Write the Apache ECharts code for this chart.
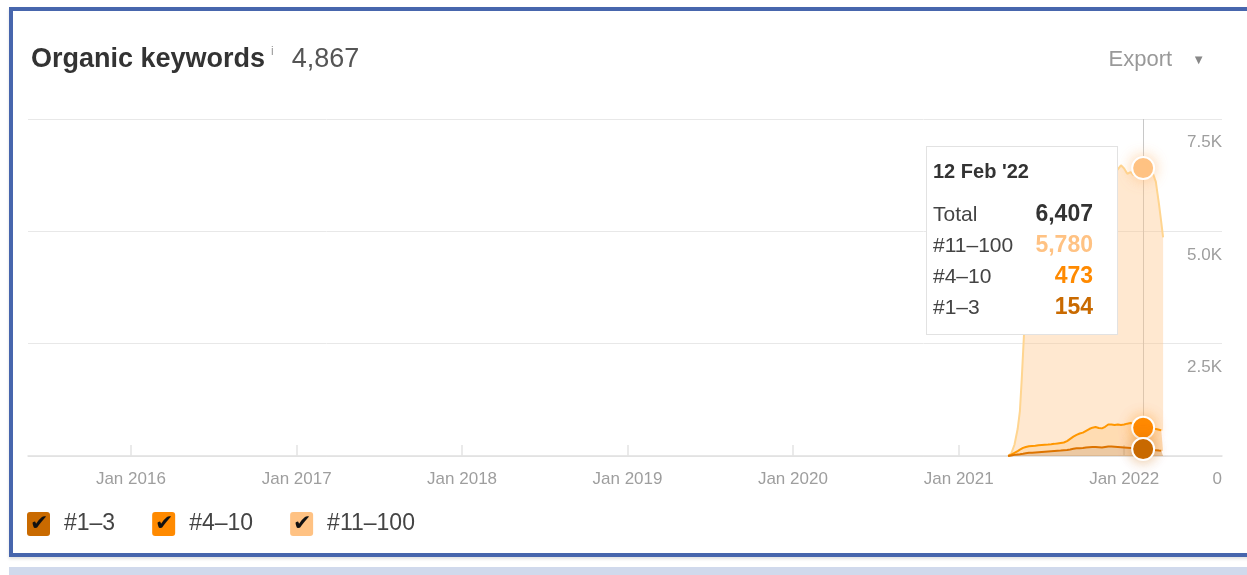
<!DOCTYPE html>
<html><head><meta charset="utf-8">
<script src="https://cdn.jsdelivr.net/npm/echarts@6/dist/echarts.min.js"></script>
<style>
html,body{margin:0;padding:0;background:#fff;width:1247px;height:575px;overflow:hidden;}
#frame{position:absolute;left:9px;top:7px;width:1250px;height:542px;border:4px solid #4766ad;box-shadow:0 2px 3px rgba(0,0,0,0.12);}
#strip{position:absolute;left:9px;top:567px;width:1250px;height:10px;background:#d0d9ec;}
#chart{position:absolute;left:0;top:0;width:1247px;height:575px;}
</style></head>
<body>
<div id="frame"></div><div id="strip"></div>
<div id="chart"></div>
<script>
// ---- data ----
const dates = ['2021-04-20','2021-04-27','2021-05-04','2021-05-11','2021-05-16','2021-05-20','2021-05-23','2021-05-26','2021-05-29','2021-06-01','2021-06-05','2021-06-12','2021-06-19','2021-06-26','2021-07-03','2021-07-10','2021-07-17','2021-07-24','2021-07-31','2021-08-07','2021-08-14','2021-08-21','2021-08-28','2021-09-04','2021-09-11','2021-09-18','2021-09-25','2021-10-02','2021-10-09','2021-10-16','2021-10-23','2021-10-30','2021-11-06','2021-11-13','2021-11-20','2021-11-27','2021-12-04','2021-12-11','2021-12-18','2021-12-25','2022-01-01','2022-01-08','2022-01-15','2022-01-22','2022-01-29','2022-02-05','2022-02-12','2022-02-19','2022-02-26','2022-03-05','2022-03-12','2022-03-19','2022-03-24','2022-03-28'];
const top1to3 = [0,10,25,35,40,45,50,55,60,65,70,75,80,85,90,95,100,105,110,115,120,128,135,145,160,170,175,180,190,195,200,200,195,190,200,210,210,205,200,195,190,185,180,175,165,160,154,155,150,140,130,120,115,110];
const top4to10 = [0,20,45,75,100,120,130,135,140,145,145,150,150,155,155,155,155,157,160,165,170,172,195,235,270,300,325,340,370,405,430,445,430,425,450,490,490,485,500,495,510,535,555,545,525,500,473,475,470,470,470,465,455,450];
const top11to100 = [0,30,180,490,860,1535,2120,2710,3800,4990,5685,5925,6020,5960,6055,6100,6025,6058,6130,6100,6010,6050,6090,6000,5870,5880,5920,5880,5770,5780,5820,5755,5725,5685,5730,5720,5650,5610,5680,5780,5700,5560,5585,5530,5640,5710,5780,5790,5770,5690,5500,5015,4630,4307];
const seriesNames = ['#1–3','#4–10','#11–100'];
const yTickLabels = {0:'0',2500:'2.5K',5000:'5.0K',7500:'7.5K'};
const xRange = ['2015-05-19','2022-08-05'];
const hoverDate = '2022-02-12';
const headlineTotal = '4,867';

// ---- chart ----
const FONT = "'Liberation Sans', Arial, sans-serif";
const parse = s => new Date(s + 'T00:00:00').getTime();
const colors = ['#c96a00','#ff8a00','#ffc283'];
const areas = ['rgba(201,106,0,0.36)','rgba(255,138,0,0.30)','rgba(255,194,131,0.38)'];
const halos = ['rgba(201,106,0,0.45)','rgba(255,138,0,0.45)','rgba(255,194,131,0.7)'];
const values = [top1to3, top4to10, top11to100];
const MON = ['Jan','Feb','Mar','Apr','May','Jun','Jul','Aug','Sep','Oct','Nov','Dec'];
const fmt = n => n.toLocaleString('en-US');

const chart = echarts.init(document.getElementById('chart'), null, {renderer:'canvas'});
const option = {
  animation: false,
  textStyle: {fontFamily: FONT},
  title: [{
    left: 26, top: 41,
    text: '{a|Organic keywords}{i|i}{b|' + headlineTotal + '}',
    textStyle: {rich: {
      a: {fontSize: 27, fontWeight: 'bold', color: '#333', fontFamily: FONT},
      i: {fontSize: 12, color: '#999', fontWeight: 'normal', verticalAlign: 'top', padding: [0, 18, 10, 6], fontFamily: FONT},
      b: {fontSize: 27, color: '#555', fontWeight: 'normal', fontFamily: FONT}
    }}
  }, {
    right: 37, top: 44,
    text: '{e|Export}{t|▼}',
    textStyle: {rich: {
      e: {fontSize: 22, color: '#999', fontWeight: 'normal', fontFamily: FONT},
      t: {fontSize: 13, color: '#888', fontWeight: 'normal', padding: [0, 0, 0, 20], fontFamily: FONT}
    }}
  }],
  grid: {left: 28, right: 25, top: 119, bottom: 119, containLabel: false},
  xAxis: {
    type: 'time',
    min: parse(xRange[0]), max: parse(xRange[1]),
    minInterval: 365 * 864e5, maxInterval: 366 * 864e5,
    axisLine: {lineStyle: {color: '#e0e0e0', width: 1.5}},
    axisTick: {show: true, inside: true, length: 11, lineStyle: {color: '#e4e4e4', width: 1.5}},
    axisLabel: {color: '#9e9e9e', fontSize: 17, margin: 15, fontFamily: FONT,
      formatter: v => { const d = new Date(v); return d.getMonth() === 0 && d.getDate() === 1 ? 'Jan ' + d.getFullYear() : ''; }},
    splitLine: {show: false}
  },
  yAxis: {
    type: 'value', position: 'right', min: 0, max: 7500, interval: 2500,
    axisLine: {show: false}, axisTick: {show: false},
    axisLabel: {inside: true, margin: 0, verticalAlign: 'top', padding: [15, 0, 0, 0],
      color: '#9e9e9e', fontSize: 17, fontFamily: FONT,
      formatter: v => yTickLabels[v] !== undefined ? yTickLabels[v] : ''},
    splitLine: {lineStyle: {color: '#e8e8e8', width: 1}}
  },
  legend: {
    left: 16, top: 507, itemWidth: 0, itemHeight: 0, itemGap: 31, selectedMode: false,
    data: seriesNames,
    formatter: name => '{b' + seriesNames.indexOf(name) + '|✔}{t|' + name + '}',
    textStyle: {rich: {
      b0: {backgroundColor: colors[0], width: 23, height: 24, borderRadius: 3, align: 'center', fontSize: 22, color: '#111', lineHeight: 24},
      b1: {backgroundColor: colors[1], width: 23, height: 24, borderRadius: 3, align: 'center', fontSize: 22, color: '#111', lineHeight: 24},
      b2: {backgroundColor: colors[2], width: 23, height: 24, borderRadius: 3, align: 'center', fontSize: 22, color: '#111', lineHeight: 24},
      t: {fontSize: 23, color: '#444', padding: [0, 0, 0, 14], fontFamily: FONT}
    }}
  },
  tooltip: {
    trigger: 'axis', triggerOn: 'none', alwaysShowContent: true,
    backgroundColor: '#fff', borderColor: '#e2e2e2', borderWidth: 1,
    padding: [11, 24, 12, 6],
    extraCssText: 'box-shadow:none;border-radius:0;',
    position: point => [point[0] - 217, 146],
    axisPointer: {type: 'line', snap: true, z: 1, lineStyle: {color: '#c8c8c8', width: 1, type: 'solid'}, label: {show: false}},
    formatter: params => {
      const d = new Date(params[0].value[0]);
      const head = d.getDate() + ' ' + MON[d.getMonth()] + " '" + String(d.getFullYear()).slice(2);
      const byName = {};
      params.forEach(p => byName[p.seriesName] = p.value[1]);
      const total = params.reduce((s, p) => s + p.value[1], 0);
      const row = (lab, val, col) => '<tr><td style="padding:0;">' + lab + '</td><td style="padding:0 0 0 18px;text-align:right;font-weight:bold;font-size:23px;color:' + col + '">' + fmt(val) + '</td></tr>';
      return '<div style="font-family:' + FONT.replace(/'/g, '') + ';color:#333;width:160px;">' +
        '<div style="font-weight:bold;font-size:20px;line-height:26px;margin-bottom:14px;">' + head + '</div>' +
        '<table style="border-collapse:collapse;font-size:21px;line-height:31px;color:#444;width:100%;">' +
        row('Total', total, '#333') +
        row(seriesNames[2], byName[seriesNames[2]], colors[2]) +
        row(seriesNames[1], byName[seriesNames[1]], colors[1]) +
        row(seriesNames[0], byName[seriesNames[0]], '#c96a00') +
        '</table></div>';
    }
  },
  series: seriesNames.map((name, k) => ({
    type: 'line', name: name, stack: 'kw',
    data: dates.map((d, i) => [parse(d), values[k][i]]),
    showSymbol: false, symbol: 'circle', symbolSize: 22,
    lineStyle: {width: 2, color: colors[k]},
    itemStyle: {color: colors[k], borderColor: '#fff', borderWidth: 2},
    areaStyle: {color: areas[k], opacity: 1},
    emphasis: {scale: false, focus: 'none',
      itemStyle: {color: colors[k], borderColor: '#fff', borderWidth: 2, shadowBlur: 14, shadowColor: halos[k]},
      lineStyle: {width: 2}, areaStyle: {color: areas[k]}},
    z: 4 - k
  }))
};
chart.setOption(option);
chart.dispatchAction({type: 'showTip', seriesIndex: 0, dataIndex: dates.indexOf(hoverDate)});
</script>
</body></html>
